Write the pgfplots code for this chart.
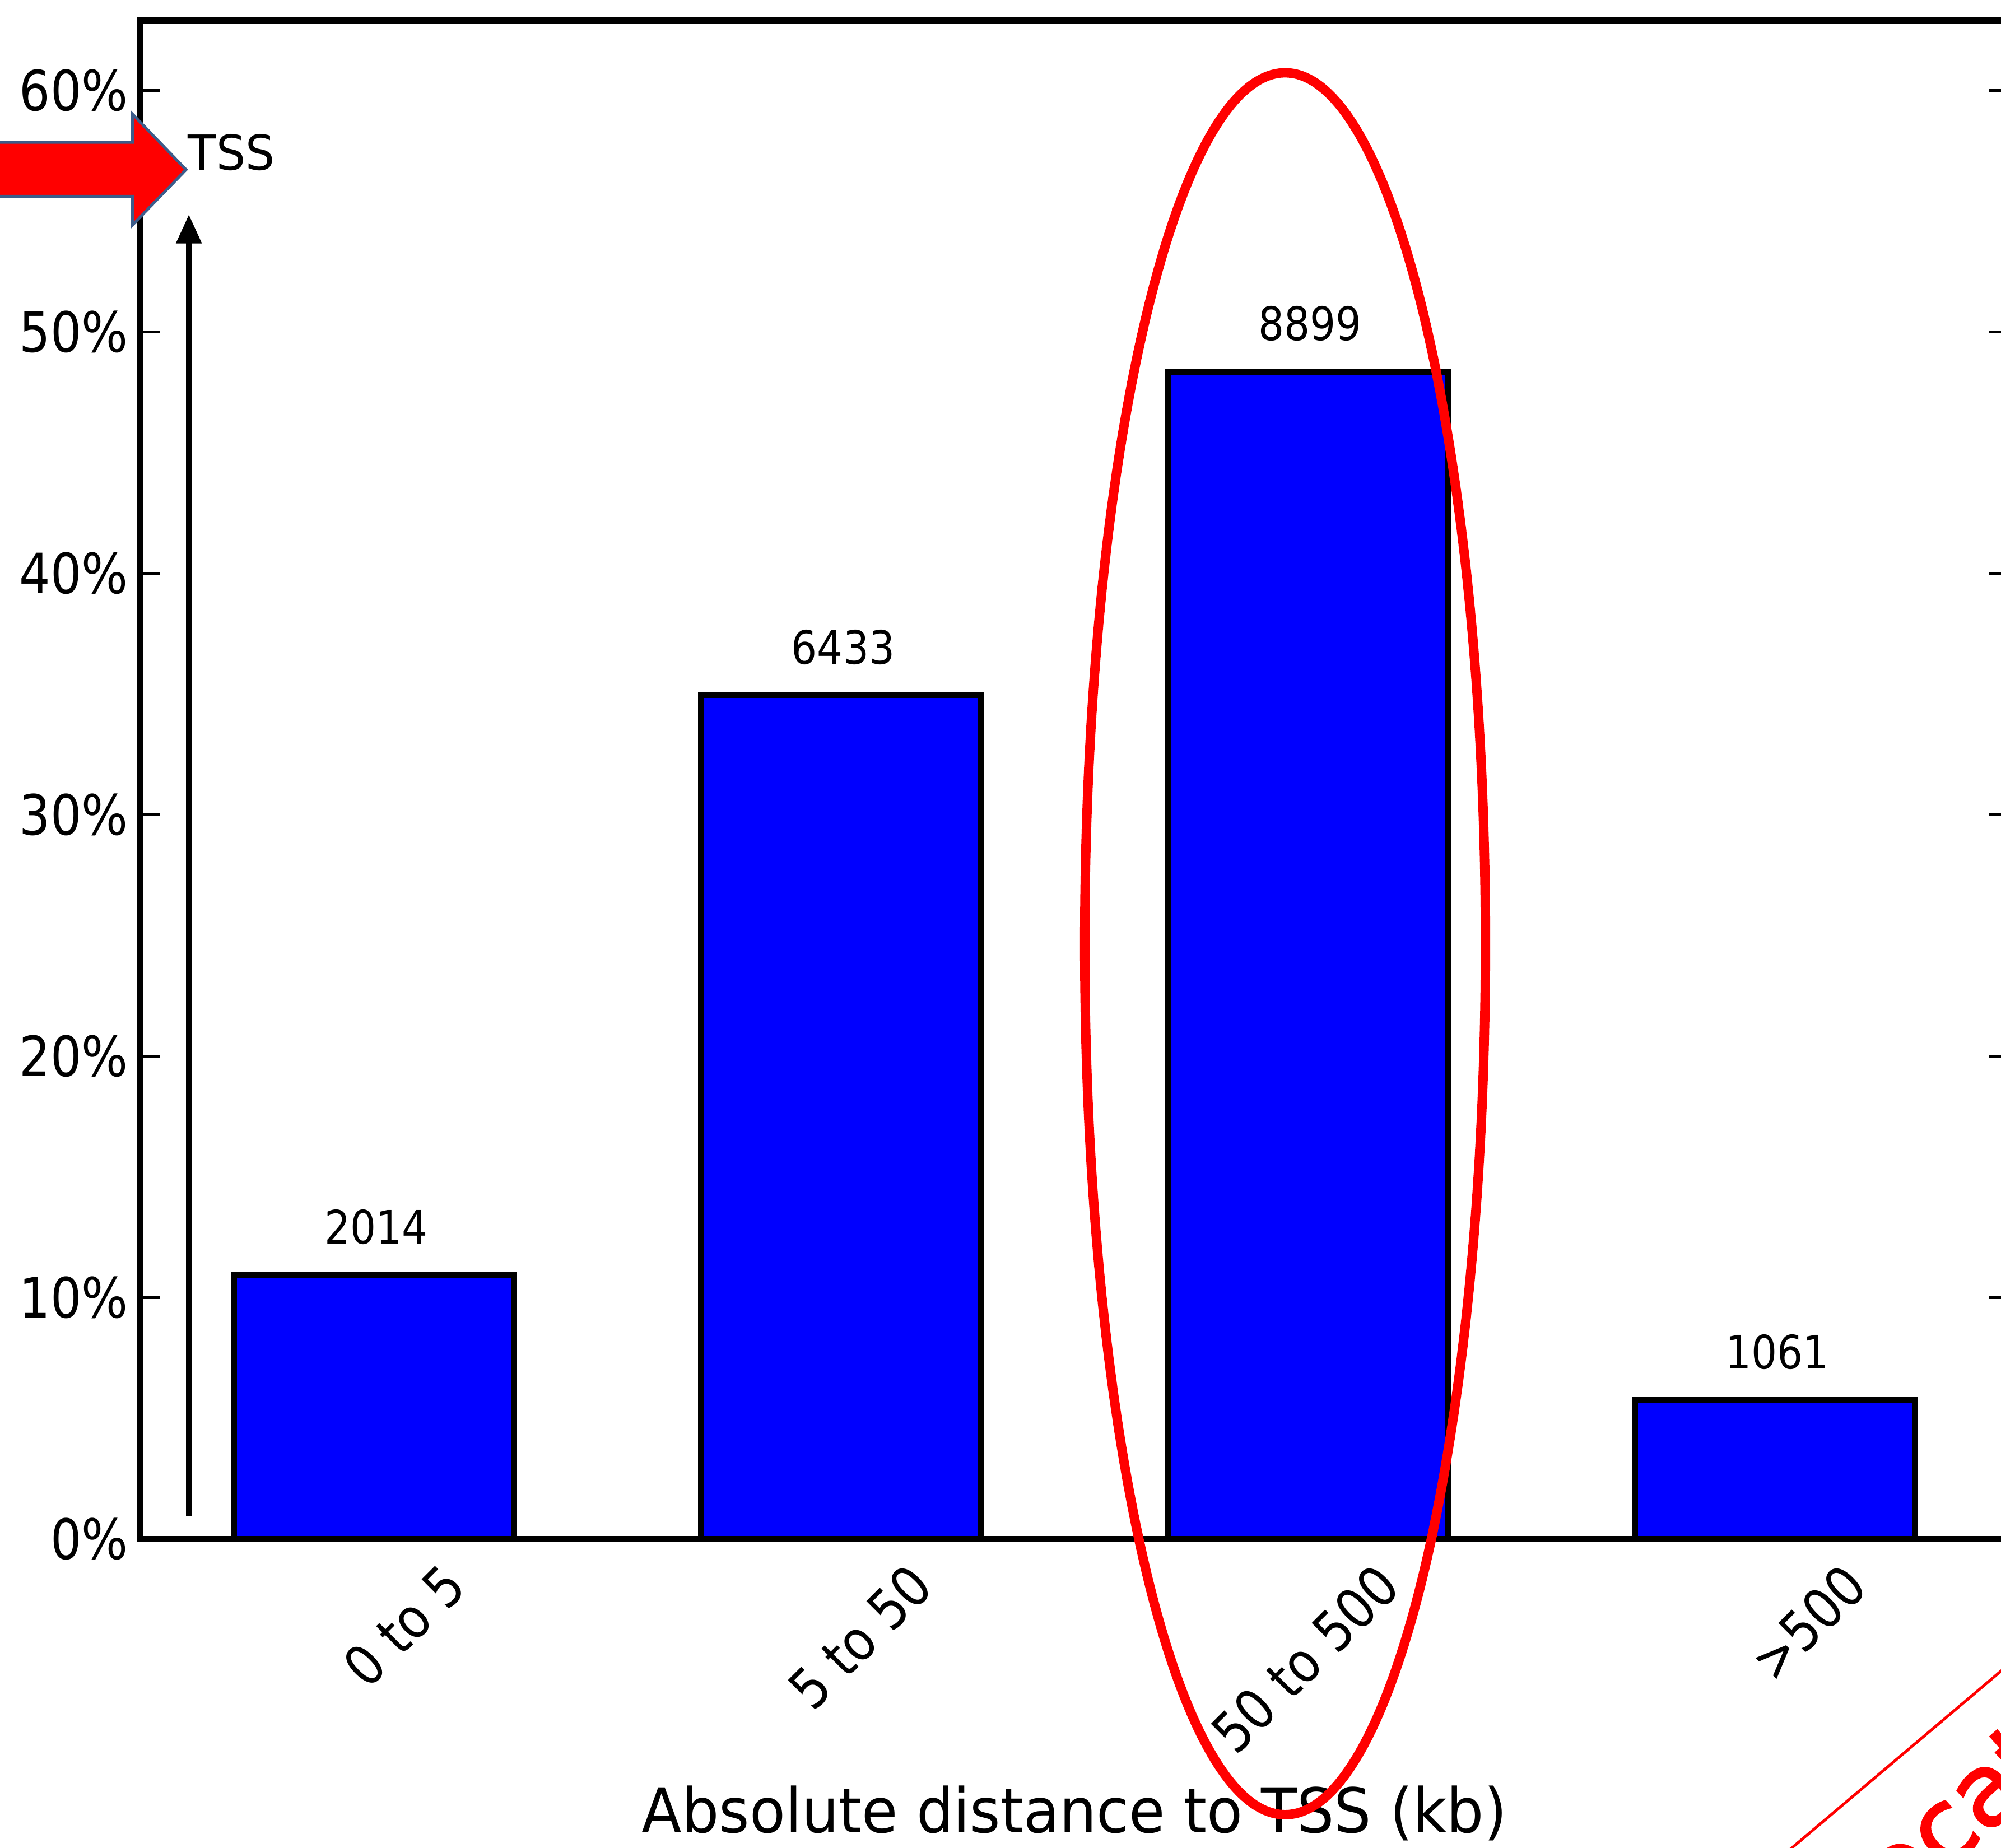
\documentclass[border=0pt]{standalone}
\usepackage{pgfplots}
\pgfplotsset{compat=1.18}
\usepackage{fontspec}
\setmainfont{DejaVu Sans}[FakeStretch=0.88]
\newfontfamily\txtfont{DejaVu Sans}[FakeStretch=0.95]
\newfontfamily\wmfont{DejaVu Sans}[FakeBold=2]
\usetikzlibrary{arrows.meta}
\definecolor{arrowedge}{RGB}{60,92,138}
\begin{document}
\begin{tikzpicture}
\useasboundingbox (-25.26pt,-55.56pt) rectangle (334.76pt,276.9pt);
\clip (-25.26pt,-55.56pt) rectangle (334.76pt,276.9pt);
\begin{axis}[
  at={(0pt,0pt)}, anchor=south west,
  scale only axis,
  width=336.1pt, height=273.25pt,
  xmin=-0.5, xmax=3.5,
  ymin=0, ymax=62.9,
  ybar, bar width=0.6,
  axis line style={line width=1.1pt},
  tick align=inside,
  ytick pos=both,
  ytick={0,10,20,30,40,50,60},
  yticklabels={0\%,10\%,20\%,30\%,40\%,50\%,60\%},
  yticklabel style={font=\fontsize{10}{12}\selectfont, inner sep=0pt, anchor=east, xshift=-2.0pt},
  ytick style={line width=0.5pt, black},
  major tick length=3.5pt,
  xtick={0,1,2,3},
  xticklabels={0 to 5,5 to 50,50 to 500,>500},
  xtick style={draw=none},
  xticklabel style={font=\fontsize{10}{12}\selectfont, inner sep=0pt, anchor=north east, xshift=11.8pt, yshift=-3.6pt, rotate=45},
  xlabel={\txtfont Absolute distance to TSS (kb)},
  xlabel style={at={(axis description cs:0.5,0)}, anchor=base, yshift=-52.8pt, inner sep=0pt, font=\fontsize{11.1}{13}\selectfont},
  point meta=explicit symbolic,
  nodes near coords,
  nodes near coords style={anchor=base, yshift=5.6pt, xshift=0.4pt, inner sep=0pt, font=\fontsize{8.3}{10}\selectfont, black},
]
\addplot[fill=blue, draw=black, line width=1.1pt] coordinates {
  (0,10.94) [2014]
  (1,34.95) [6433]
  (2,48.35) [8899]
  (3,5.76)  [1061]
};
\end{axis}
% vertical black arrow
\draw[line width=1.0pt, -{Triangle[length=5.2pt,width=4.4pt]}] (8.72pt,4.13pt) -- (8.72pt,238.3pt);
% TSS text
\node[anchor=base west, inner sep=0pt, font=\txtfont\fontsize{8.7}{10}\selectfont] at (8.4pt,246.3pt) {TSS};
% red block arrow
\draw[fill=red, draw=arrowedge, line width=0.5pt, line join=miter]
  (-30pt,251.28pt) -- (-1.42pt,251.28pt) -- (-1.42pt,256.37pt) -- (8.22pt,246.37pt)
  -- (-1.42pt,236.42pt) -- (-1.42pt,241.59pt) -- (-30pt,241.59pt) -- cycle;
% red ellipse
\draw[red, line width=1.7pt] (205.95pt,107.1pt) ellipse [x radius=36.05pt, y radius=156.7pt];
% red diagonal line and partial text at bottom right
\draw[red, line width=0.5pt] (290pt,-61.6pt) -- (345pt,-15.1pt);
\node[rotate=42, anchor=base west, inner sep=0pt, text=red, font=\wmfont\fontsize{18}{20}\selectfont] at (299.6pt,-82.5pt) {Allocation};
\end{tikzpicture}
\end{document}
